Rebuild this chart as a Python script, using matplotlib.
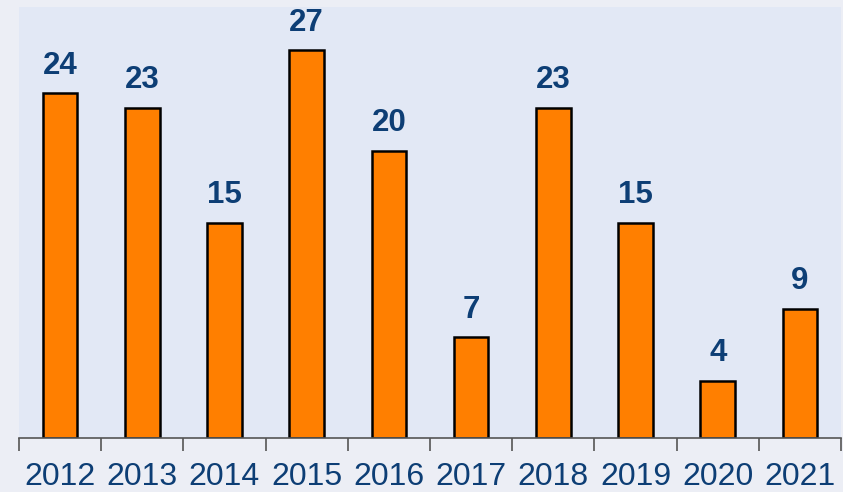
import numpy as np
import matplotlib.pyplot as plt

years = ['2012', '2013', '2014', '2015', '2016', '2017', '2018', '2019', '2020', '2021']
counts = [24, 23, 15, 27, 20, 7, 23, 15, 4, 9]

navy = '#0D3E75'

plt.rcParams['font.family'] = ['Liberation Sans', 'DejaVu Sans']

fig = plt.figure(figsize=(8.43, 4.92), dpi=100, facecolor='#ECEEF5')
ax = fig.add_axes([19 / 843, 54 / 492, 822 / 843, 431 / 492])
ax.set_facecolor('#E2E8F5')

x = np.arange(len(years))
bars = ax.bar(x, counts, width=0.42, color='#FF7F00', edgecolor='black', linewidth=1.8, zorder=2)

# etiquetas de valor encima de cada barra
for b, v in zip(bars, counts):
    ax.text(b.get_x() + b.get_width() / 2, v + 0.85, str(v), ha='center', va='bottom',
            fontsize=22.5, fontweight='bold', color=navy)

ax.set_xlim(-0.5, len(years) - 0.5)
ax.set_ylim(0, 30)

for s in ['top', 'right', 'left']:
    ax.spines[s].set_visible(False)
ax.spines['bottom'].set_color('#555555')
ax.spines['bottom'].set_linewidth(1.2)

ax.set_yticks([])
ax.set_xticks(x)
ax.set_xticklabels(years, fontsize=23, color=navy)
ax.tick_params(axis='x', which='major', length=0, pad=17)
ax.set_xticks(np.arange(-0.5, len(years)), minor=True)
ax.tick_params(axis='x', which='minor', length=9, width=1.2, color='#555555')

fig.savefig('out.png', dpi=100, facecolor=fig.get_facecolor())
